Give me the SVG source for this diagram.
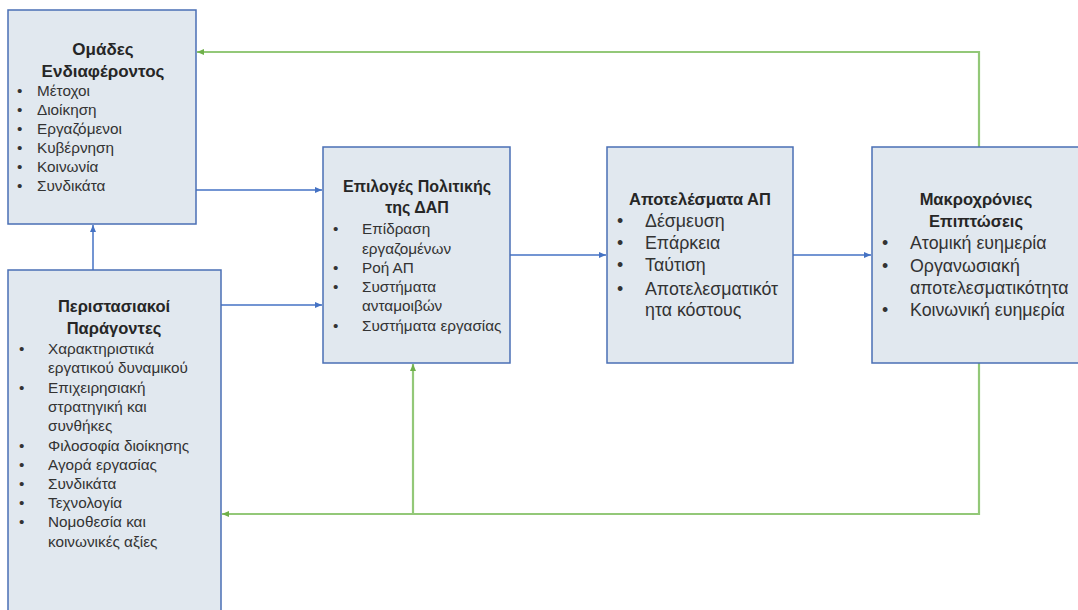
<svg xmlns="http://www.w3.org/2000/svg" width="1078" height="610" viewBox="0 0 1078 610">
  <style>
    .box { fill: #e1e8ef; stroke: #4a6fb5; stroke-width: 1.5; }
    .title { font-family: "Liberation Sans", Arial, sans-serif; font-weight: bold; font-size: 16.5px; fill: #262626; text-anchor: middle; }
    .item { font-family: "Liberation Sans", Arial, sans-serif; font-size: 15.3px; fill: #333333; }
    .big { font-size: 17.8px; }
    .blue { fill: none; stroke: #4472c4; stroke-width: 1.5; }
    .green { fill: none; stroke: #93c878; stroke-width: 2.2; }
  </style>
  <defs>
    <marker id="arrBlue" markerWidth="8" markerHeight="8" refX="7" refY="4" orient="auto" markerUnits="userSpaceOnUse">
      <path d="M0,1 L7,4 L0,7 Z" fill="#4472c4"/>
    </marker>
    <marker id="arrGreen" markerWidth="8" markerHeight="8" refX="7" refY="4" orient="auto" markerUnits="userSpaceOnUse">
      <path d="M0,1 L7,4 L0,7 Z" fill="#6fb04a"/>
    </marker>
  </defs>
  <rect width="1078" height="610" fill="#ffffff"/>

  <!-- connectors -->
  <g id="connectors">
    <path class="blue" d="M196,190 L322,190" marker-end="url(#arrBlue)"/>
    <path class="blue" d="M221,305 L322,305" marker-end="url(#arrBlue)"/>
    <path class="blue" d="M93,270 L93,225" marker-end="url(#arrBlue)"/>
    <path class="blue" d="M510,255 L606,255" marker-end="url(#arrBlue)"/>
    <path class="blue" d="M793,255 L871,255" marker-end="url(#arrBlue)"/>
    <path class="green" d="M979,147 L979,52 L197,52" marker-end="url(#arrGreen)"/>
    <path class="green" d="M979,363 L979,514 L222,514" marker-end="url(#arrGreen)"/>
    <path class="green" d="M413,514 L413,364" marker-end="url(#arrGreen)"/>
  </g>

  <!-- stakeholders -->
  <g id="stakeholders">
    <rect class="box" x="8" y="10" width="188" height="214"/>
    <text class="title" x="103" y="55" style="font-size:17px">Ομάδες</text>
    <text class="title" x="103" y="77" style="font-size:17px">Ενδιαφέροντος</text>
    <g class="item">
      <text x="17" y="96">•</text><text x="37" y="96">Μέτοχοι</text>
      <text x="17" y="115">•</text><text x="37" y="115">Διοίκηση</text>
      <text x="17" y="134">•</text><text x="37" y="134">Εργαζόμενοι</text>
      <text x="17" y="153">•</text><text x="37" y="153">Κυβέρνηση</text>
      <text x="17" y="172">•</text><text x="37" y="172">Κοινωνία</text>
      <text x="17" y="191">•</text><text x="37" y="191">Συνδικάτα</text>
    </g>
  </g>

  <!-- situational factors -->
  <g id="situational">
    <rect class="box" x="8" y="270" width="213" height="360"/>
    <text class="title" x="114" y="312">Περιστασιακοί</text>
    <text class="title" x="114" y="334">Παράγοντες</text>
    <g class="item">
      <text x="19" y="354">•</text><text x="48" y="354">Χαρακτηριστικά</text>
      <text x="48" y="373">εργατικού δυναμικού</text>
      <text x="19" y="393">•</text><text x="48" y="393">Επιχειρησιακή</text>
      <text x="48" y="412">στρατηγική και</text>
      <text x="48" y="431">συνθήκες</text>
      <text x="19" y="451">•</text><text x="48" y="451">Φιλοσοφία διοίκησης</text>
      <text x="19" y="470">•</text><text x="48" y="470">Αγορά εργασίας</text>
      <text x="19" y="489">•</text><text x="48" y="489">Συνδικάτα</text>
      <text x="19" y="508">•</text><text x="48" y="508">Τεχνολογία</text>
      <text x="19" y="527">•</text><text x="48" y="527">Νομοθεσία και</text>
      <text x="48" y="547">κοινωνικές αξίες</text>
    </g>
  </g>

  <!-- HRM policy choices -->
  <g id="policy">
    <rect class="box" x="323" y="147" width="187" height="216"/>
    <text class="title" x="417" y="192" style="font-size:16px">Επιλογές Πολιτικής</text>
    <text class="title" x="417" y="213" style="font-size:16px">της ΔΑΠ</text>
    <g class="item">
      <text x="333" y="234">•</text><text x="362" y="234">Επίδραση</text>
      <text x="362" y="254">εργαζομένων</text>
      <text x="333" y="273">•</text><text x="362" y="273">Ροή ΑΠ</text>
      <text x="333" y="292">•</text><text x="362" y="292">Συστήματα</text>
      <text x="362" y="311">ανταμοιβών</text>
      <text x="333" y="331">•</text><text x="362" y="331">Συστήματα εργασίας</text>
    </g>
  </g>

  <!-- HR outcomes -->
  <g id="outcomes">
    <rect class="box" x="607" y="147" width="186" height="216"/>
    <text class="title" x="700" y="205">Αποτελέσματα ΑΠ</text>
    <g class="item big">
      <text x="617" y="227">•</text><text x="645" y="227">Δέσμευση</text>
      <text x="617" y="249">•</text><text x="645" y="249">Επάρκεια</text>
      <text x="617" y="271">•</text><text x="645" y="271">Ταύτιση</text>
      <text x="617" y="295">•</text><text x="645" y="295">Αποτελεσματικότ</text>
      <text x="645" y="316">ητα κόστους</text>
    </g>
  </g>

  <!-- long-term consequences -->
  <g id="consequences">
    <rect class="box" x="872" y="147" width="215" height="216"/>
    <text class="title" x="976" y="205">Μακροχρόνιες</text>
    <text class="title" x="976" y="227">Επιπτώσεις</text>
    <g class="item big">
      <text x="882" y="249">•</text><text x="910" y="249">Ατομική ευημερία</text>
      <text x="882" y="272">•</text><text x="910" y="272">Οργανωσιακή</text>
      <text x="910" y="294">αποτελεσματικότητα</text>
      <text x="882" y="316">•</text><text x="910" y="316">Κοινωνική ευημερία</text>
    </g>
  </g>
</svg>
